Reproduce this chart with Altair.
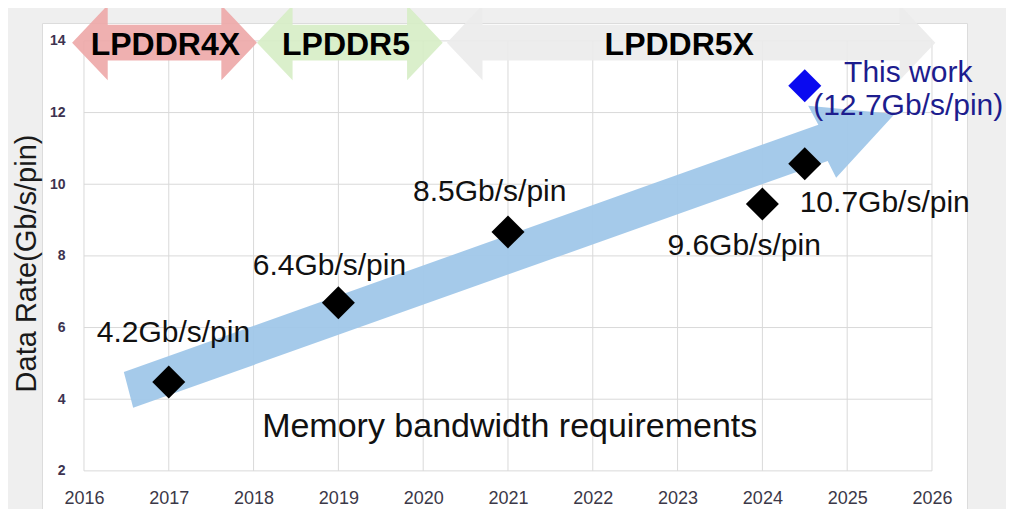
import altair as alt
import pandas as pd

# ---------------- data ----------------
years = [2017, 2019, 2021, 2024, 2024.5]
rates = [4.48, 6.69, 8.67, 9.45, 10.57]
rate_labels = ["4.2Gb/s/pin", "6.4Gb/s/pin", "8.5Gb/s/pin", "9.6Gb/s/pin", "10.7Gb/s/pin"]
label_x = [2016.15, 2017.99, 2019.88, 2022.88, 2024.44]
label_y = [5.60, 7.47, 9.54, 8.03, 9.23]

this_year = [2024.5]
this_rate = [12.75]
this_lines = ["This work", "(12.7Gb/s/pin)"]
this_x = [2025.72, 2025.72]
this_y = [12.86, 11.94]

gen_names = ["LPDDR4X", "LPDDR5", "LPDDR5X"]
gen_from = [2015.86, 2018.04, 2020.28]
gen_to = [2018.04, 2020.23, 2026.04]
gen_text_x = [2016.96, 2019.09, 2023.02]
gen_colors = ["#eda7a7", "#d6edc5", "#ebebeb"]
gen_level = 13.95
gen_text_level = 13.61

trend_x = [2016.47, 2024.66, 2024.54, 2025.56, 2024.87, 2024.77, 2016.58]
trend_y = [4.76, 11.66, 12.19, 11.96, 10.18, 10.65, 3.76]

note_text = ["Memory bandwidth requirements"]
note_x = [2021.02]
note_y = [2.95]

x_ticks = list(range(2016, 2027))
y_ticks = [2, 4, 6, 8, 10, 12, 14]

# ---------------- scales / axes ----------------
xs = alt.Scale(domain=[2015.505, 2026.413], nice=False, zero=False)
ys = alt.Scale(domain=[0.936, 14.5], nice=False, zero=False)

x_axis = alt.Axis(values=x_ticks, format="d", grid=False, domain=False, ticks=False,
                  labelFont="Liberation Sans", labelFontSize=18, labelColor="#3b3848",
                  labelPadding=18, offset=-38, title=None, labelFlush=False)
y_axis = alt.Axis(values=y_ticks, format="d", grid=False, domain=False, ticks=False,
                  labelFont="Liberation Sans", labelFontSize=14, labelFontWeight="bold",
                  labelColor="#3d3350", labelPadding=2, offset=-25,
                  title="Data Rate(Gb/s/pin)", titleFont="Liberation Sans",
                  titleFontSize=29, titleFontWeight="normal", titleColor="#1a1a1a",
                  titleAngle=270, titleX=-41, titleY=240, titleAlign="center",
                  titleBaseline="middle")


def X(f):
    return alt.X(f, type="quantitative", scale=xs, axis=x_axis)


def Y(f):
    return alt.Y(f, type="quantitative", scale=ys, axis=y_axis)


# ---------------- grid ----------------
vgrid = pd.DataFrame({"x": x_ticks, "lo": [y_ticks[0]] * len(x_ticks), "hi": [y_ticks[-1]] * len(x_ticks)})
hgrid = pd.DataFrame({"y": y_ticks, "lo": [x_ticks[0]] * len(y_ticks), "hi": [x_ticks[-1]] * len(y_ticks)})

grid_v = alt.Chart(vgrid).mark_rule(color="#d9d9d9", strokeWidth=1).encode(
    x=X("x"), y=Y("lo"), y2="hi")
grid_h = alt.Chart(hgrid).mark_rule(color="#d9d9d9", strokeWidth=1).encode(
    y=Y("y"), x=X("lo"), x2="hi")

layers = [grid_v, grid_h]

# ---------------- generation banners (double arrows) ----------------
head_len = 0.42
shaft_half = 0.5
head_half = 1.05
for s, e, col in zip(gen_from, gen_to, gen_colors):
    px = [s, s + head_len, s + head_len, e - head_len, e - head_len, e,
          e - head_len, e - head_len, s + head_len, s + head_len]
    py = [gen_level, gen_level + head_half, gen_level + shaft_half, gen_level + shaft_half,
          gen_level + head_half, gen_level, gen_level - head_half, gen_level - shaft_half,
          gen_level - shaft_half, gen_level - head_half]
    df = pd.DataFrame({"x": px, "y": py, "i": list(range(len(px)))})
    layers.append(
        alt.Chart(df).mark_line(fill=col, fillOpacity=0.9, strokeWidth=0, strokeOpacity=0).encode(
            x=X("x"), y=Y("y"), order="i:Q")
    )

gen_df = pd.DataFrame({"name": gen_names, "x": gen_text_x, "y": [gen_text_level] * 3})
layers.append(
    alt.Chart(gen_df).mark_text(font="Liberation Sans", fontSize=32, fontWeight="bold",
                                color="#000000", align="center", baseline="alphabetic").encode(
        x=X("x"), y=Y("y"), text="name:N")
)

# ---------------- trend arrow ----------------
trend_df = pd.DataFrame({"x": trend_x, "y": trend_y, "i": list(range(len(trend_x)))})
layers.append(
    alt.Chart(trend_df).mark_line(fill="#a0c7e9", fillOpacity=0.95, strokeWidth=0, strokeOpacity=0).encode(
        x=X("x"), y=Y("y"), order="i:Q")
)

# ---------------- points ----------------
pts = pd.DataFrame({"year": years, "rate": rates})
layers.append(
    alt.Chart(pts).mark_point(shape="diamond", filled=True, size=1090, color="#000000", opacity=1).encode(
        x=X("year"), y=Y("rate"))
)
this_df = pd.DataFrame({"year": this_year, "rate": this_rate})
layers.append(
    alt.Chart(this_df).mark_point(shape="diamond", filled=True, size=1090, color="#0a0af0", opacity=1).encode(
        x=X("year"), y=Y("rate"))
)

# ---------------- labels ----------------
lab_df = pd.DataFrame({"t": rate_labels, "x": label_x, "y": label_y})
layers.append(
    alt.Chart(lab_df).mark_text(font="Liberation Sans", fontSize=30, color="#111111",
                                align="left", baseline="alphabetic").encode(
        x=X("x"), y=Y("y"), text="t:N")
)
tw_df = pd.DataFrame({"t": this_lines, "x": this_x, "y": this_y})
layers.append(
    alt.Chart(tw_df).mark_text(font="Liberation Sans", fontSize=30, color="#1d1d8e",
                               align="center", baseline="alphabetic").encode(
        x=X("x"), y=Y("y"), text="t:N")
)
note_df = pd.DataFrame({"t": note_text, "x": note_x, "y": note_y})
layers.append(
    alt.Chart(note_df).mark_text(font="Liberation Sans", fontSize=34, color="#111111",
                                 align="center", baseline="alphabetic").encode(
        x=X("x"), y=Y("y"), text="t:N")
)

chart = alt.layer(*layers).properties(
    width=925, height=486,
    background="#efefef",
    padding={"left": 34, "top": 15, "right": 39, "bottom": 0},
    autosize=alt.AutoSizeParams(type="none"),
).configure_view(fill="#ffffff", stroke="#dcdcdc")

chart.save("out.html", embed_options={"renderer": "svg", "actions": False})
